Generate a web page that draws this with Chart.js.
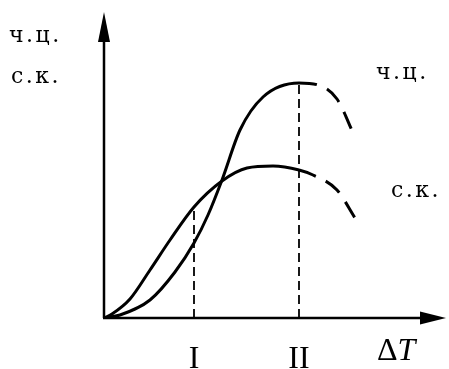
<!DOCTYPE html>
<html><head><meta charset="utf-8">
<script src="https://cdn.jsdelivr.net/npm/chart.js@4"></script>
<style>html,body{margin:0;padding:0;background:#fff}canvas{display:block}</style>
</head><body>
<canvas id="c" width="449" height="369"></canvas>
<script>
// ---- data (arbitrary units) ----
const seriesNames = ['ч.ц.', 'с.к.'];
const chcX = [0, 1.6, 4.6, 7.1, 9.0, 10.4, 11.8, 13.6, 15.9, 19.5, 21.4, 23.3, 25.0];
const chcY = [0, 0.3, 1.8, 4.6, 7.5, 10.3, 13.8, 18.8, 22.1, 23.5, 23.3, 21.9, 18.3];
const skX  = [0, 0.8, 2.6, 4.6, 6.6, 9.0, 11.8, 14.3, 16.9, 19.5, 20.9, 23.3, 25.1];
const skY  = [0, 0.4, 1.9, 4.8, 7.8, 11.1, 13.7, 15.0, 15.2, 14.8, 14.3, 12.8, 10.0];
const tickValues = [9.0, 19.5];
const tickLabels = ['I', 'II'];
const dashFrom = 19.5;
const xTitle = ['Δ', 'T'];
const yTitle = ['ч.ц.', 'с.к.'];

const toPts = (xs, ys) => xs.map((x, i) => ({x, y: ys[i]}));
const yAt = (xs, ys, v) => ys[xs.indexOf(v)];
const vI = {x: tickValues[0], top: yAt(skX, skY, tickValues[0])};
const vII = {x: tickValues[1], top: yAt(chcX, chcY, tickValues[1])};

const dashSeg = {borderDash: ctx => ctx.p0.parsed.x >= dashFrom - 1e-9 ? [18, 11] : undefined};

const decor = {
  id: 'decor',
  beforeDatasetsDraw(chart) {
    const {ctx, scales: {x, y}} = chart;
    const x0 = x.getPixelForValue(0), y0 = y.getPixelForValue(0);
    const xr = x.getPixelForValue(x.max), yt = y.getPixelForValue(y.max);
    ctx.save();
    ctx.strokeStyle = '#000'; ctx.fillStyle = '#000'; ctx.lineWidth = 2.5;
    ctx.beginPath(); ctx.moveTo(x0, y0); ctx.lineTo(x0, yt + 20); ctx.stroke();
    ctx.beginPath(); ctx.moveTo(x0 - 1, y0); ctx.lineTo(xr - 18, y0); ctx.stroke();
    // arrow heads
    ctx.beginPath(); ctx.moveTo(x0, yt); ctx.lineTo(x0 - 6, yt + 30); ctx.lineTo(x0 + 6, yt + 30); ctx.closePath(); ctx.fill();
    ctx.beginPath(); ctx.moveTo(xr, y0); ctx.lineTo(xr - 26, y0 - 6.5); ctx.lineTo(xr - 26, y0 + 6.5); ctx.closePath(); ctx.fill();
    ctx.restore();
  },
  afterDraw(chart) {
    const {ctx} = chart;
    ctx.save();
    ctx.fillStyle = '#000';
    ctx.textBaseline = 'alphabetic';
    ctx.font = '22px "DejaVu Serif"';
    ctx.letterSpacing = '2.5px';
    ctx.fillText(yTitle[0], 9, 42);
    ctx.fillText(yTitle[1], 11, 83);
    // series labels near curve ends
    ctx.fillText(seriesNames[0], 376, 79);
    ctx.fillText(seriesNames[1], 391, 197);
    ctx.letterSpacing = '0px';
    // x title
    ctx.font = '32px "Liberation Serif"';
    ctx.fillText(xTitle[0], 377, 360);
    const w = ctx.measureText(xTitle[0]).width;
    ctx.font = 'italic 32px "Liberation Serif"';
    ctx.fillText(xTitle[1], 377 + w, 360);
    ctx.restore();
  }
};

new Chart(document.getElementById('c'), {
  type: 'line',
  data: {
    datasets: [
      {label: seriesNames[0], data: toPts(chcX, chcY), borderColor: '#000', borderWidth: 3,
       pointRadius: 0, cubicInterpolationMode: 'monotone', segment: dashSeg, borderCapStyle: 'butt', order: 1},
      {label: seriesNames[1], data: toPts(skX, skY), borderColor: '#000', borderWidth: 3,
       pointRadius: 0, cubicInterpolationMode: 'monotone', segment: dashSeg, borderCapStyle: 'butt', order: 1},
      {label: 'I', data: [{x: vI.x, y: 0}, {x: vI.x, y: vI.top}], borderColor: '#000', borderWidth: 1.8,
       borderDash: [9, 5], pointRadius: 0, order: 2},
      {label: 'II', data: [{x: vII.x, y: 0}, {x: vII.x, y: vII.top}], borderColor: '#000', borderWidth: 1.8,
       borderDash: [9, 5], pointRadius: 0, order: 2}
    ]
  },
  options: {
    responsive: false, animation: false,
    layout: {padding: {left: 104, top: 12, right: 3, bottom: 0}},
    plugins: {legend: {display: false}, tooltip: {enabled: false}},
    scales: {
      x: {type: 'linear', min: 0, max: 34.2,
          afterBuildTicks: s => { s.ticks = tickValues.map(v => ({value: v})); },
          afterFit: s => { s.height = 51; },
          grid: {display: false, drawTicks: false}, border: {display: false},
          ticks: {autoSkip: false, maxRotation: 0, padding: 22, color: '#000',
                  font: {family: 'Liberation Serif', size: 32},
                  callback: v => tickLabels[tickValues.indexOf(v)]}},
      y: {type: 'linear', min: 0, max: 30.6, display: false}
    }
  },
  plugins: [decor]
});
</script>
</body></html>
